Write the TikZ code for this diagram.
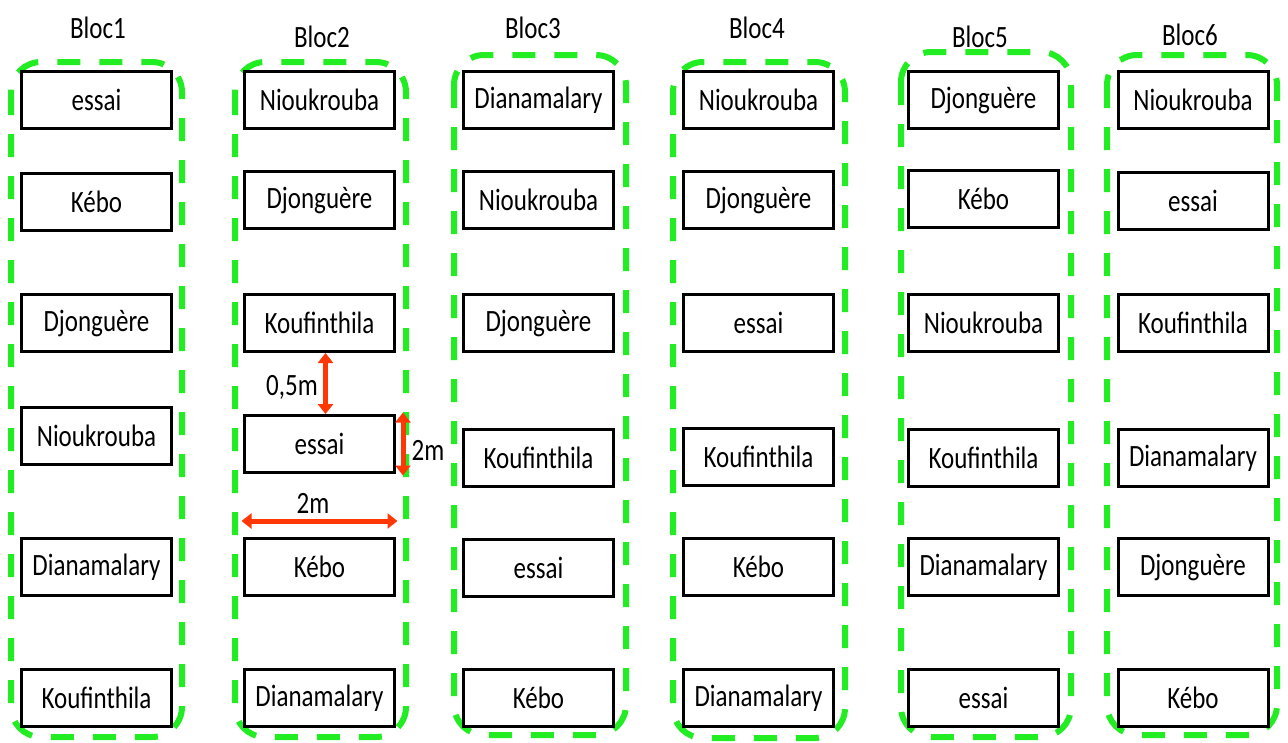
\documentclass[tikz,border=0pt]{standalone}
\usepackage{fontspec}
\setmainfont{Carlito}
\usepackage{graphicx}
\usetikzlibrary{arrows.meta,calc}
\definecolor{blocgreen}{RGB}{34,236,34}
\definecolor{arrowred}{RGB}{255,55,5}
% labels are set slightly taller than wide
\newcommand{\tall}[1]{\scalebox{1}[1.24]{#1}}
\tikzset{
  plotbox/.style={draw=black, line width=3pt, fill=white, minimum width=150pt,
    minimum height=57pt, inner sep=0pt, font=\fontsize{25}{30}\selectfont},
  blocframe/.style={draw=blocgreen, line width=6pt, rounded corners=30pt,
    dash pattern=on 23pt off 19pt},
  bloctitle/.style={font=\fontsize{25}{30}\selectfont, inner sep=0pt},
  dimtext/.style={font=\fontsize{25}{30}\selectfont, inner sep=0pt},
  dimarrow/.style={draw=arrowred, line width=5pt,
    {Triangle[length=10pt,width=15pt]}-{Triangle[length=10pt,width=15pt]}},
}
\begin{document}
\begin{tikzpicture}[x=1pt,y=-1pt]
\useasboundingbox (0,0) rectangle (1288,742);

% dashed block outlines
\draw[blocframe] (11,62) rectangle (182,737);
\draw[blocframe] (235,62) rectangle (406,737);
\draw[blocframe] (454,55) rectangle (626,735);
\draw[blocframe] (673,62) rectangle (845,738);
\draw[blocframe] (901,52) rectangle (1071,737);
\draw[blocframe] (1107,55) rectangle (1277,735);

% block titles
\node[bloctitle] (t1) at (98,28) {\tall{Bloc1}};
\node[bloctitle] (t2) at (322,37) {\tall{Bloc2}};
\node[bloctitle] (t3) at (533,28) {\tall{Bloc3}};
\node[bloctitle] (t4) at (757,28) {\tall{Bloc4}};
\node[bloctitle] (t5) at (980,37) {\tall{Bloc5}};
\node[bloctitle] (t6) at (1190,35) {\tall{Bloc6}};

% Bloc1
\node[plotbox] (a1) at (96.5,100) {\tall{essai}};
\node[plotbox] (a2) at (96.5,202) {\tall{Kébo}};
\node[plotbox] (a3) at (96.5,323) {\tall{Djonguère}};
\node[plotbox] (a4) at (96.5,436) {\tall{Nioukrouba}};
\node[plotbox] (a5) at (96.5,567) {\tall{Dianamalary}};
\node[plotbox] (a6) at (96.5,698) {\tall{Koufinthila}};

% Bloc2
\node[plotbox] (b1) at (319.5,100) {\tall{Nioukrouba}};
\node[plotbox] (b2) at (319.5,200) {\tall{Djonguère}};
\node[plotbox] (b3) at (319.5,323) {\tall{Koufinthila}};
\node[plotbox] (b4) at (319.5,444) {\tall{essai}};
\node[plotbox] (b5) at (319.5,567) {\tall{Kébo}};
\node[plotbox] (b6) at (319.5,698) {\tall{Dianamalary}};

% Bloc3
\node[plotbox] (c1) at (538.5,100) {\tall{Dianamalary}};
\node[plotbox] (c2) at (538.5,200) {\tall{Nioukrouba}};
\node[plotbox] (c3) at (538.5,323) {\tall{Djonguère}};
\node[plotbox] (c4) at (538.5,458) {\tall{Koufinthila}};
\node[plotbox] (c5) at (538.5,568) {\tall{essai}};
\node[plotbox] (c6) at (538.5,698) {\tall{Kébo}};

% Bloc4
\node[plotbox] (d1) at (758.5,100) {\tall{Nioukrouba}};
\node[plotbox] (d2) at (758.5,200) {\tall{Djonguère}};
\node[plotbox] (d3) at (758.5,323) {\tall{essai}};
\node[plotbox] (d4) at (758.5,457) {\tall{Koufinthila}};
\node[plotbox] (d5) at (758.5,567) {\tall{Kébo}};
\node[plotbox] (d6) at (758.5,698) {\tall{Dianamalary}};

% Bloc5
\node[plotbox] (e1) at (983.5,100) {\tall{Djonguère}};
\node[plotbox] (e2) at (983.5,199) {\tall{Kébo}};
\node[plotbox] (e3) at (983.5,323) {\tall{Nioukrouba}};
\node[plotbox] (e4) at (983.5,458) {\tall{Koufinthila}};
\node[plotbox] (e5) at (983.5,567) {\tall{Dianamalary}};
\node[plotbox] (e6) at (983.5,698) {\tall{essai}};

% Bloc6
\node[plotbox] (f1) at (1193,100) {\tall{Nioukrouba}};
\node[plotbox] (f2) at (1193,201) {\tall{essai}};
\node[plotbox] (f3) at (1193,323) {\tall{Koufinthila}};
\node[plotbox] (f4) at (1193,458) {\tall{Dianamalary}};
\node[plotbox] (f5) at (1193,567) {\tall{Djonguère}};
\node[plotbox] (f6) at (1193,698) {\tall{Kébo}};

% plot dimensions in Bloc2
\coordinate (gapTop) at ($(b3.south)+(6,0)$);
\coordinate (gapBot) at ($(b4.north)+(6,0)$);
\draw[dimarrow] (gapTop) -- (gapBot);
\node[dimtext] (gapLabel) at (292,387) {\tall{0,5m}};

\coordinate (lenTop) at ($(b4.north east)+(7,-1.5)$);
\coordinate (lenBot) at ($(b4.south east)+(7,1.5)$);
\draw[dimarrow] (lenTop) -- (lenBot);
\node[dimtext] (lenLabel) at (428,450) {\tall{2m}};

\coordinate (widL) at ($(b5.north west)+(-1.5,-16)$);
\coordinate (widR) at ($(b5.north east)+(1.5,-16)$);
\draw[dimarrow] (widL) -- (widR);
\node[dimtext] (widLabel) at (313,503) {\tall{2m}};
\end{tikzpicture}
\end{document}
